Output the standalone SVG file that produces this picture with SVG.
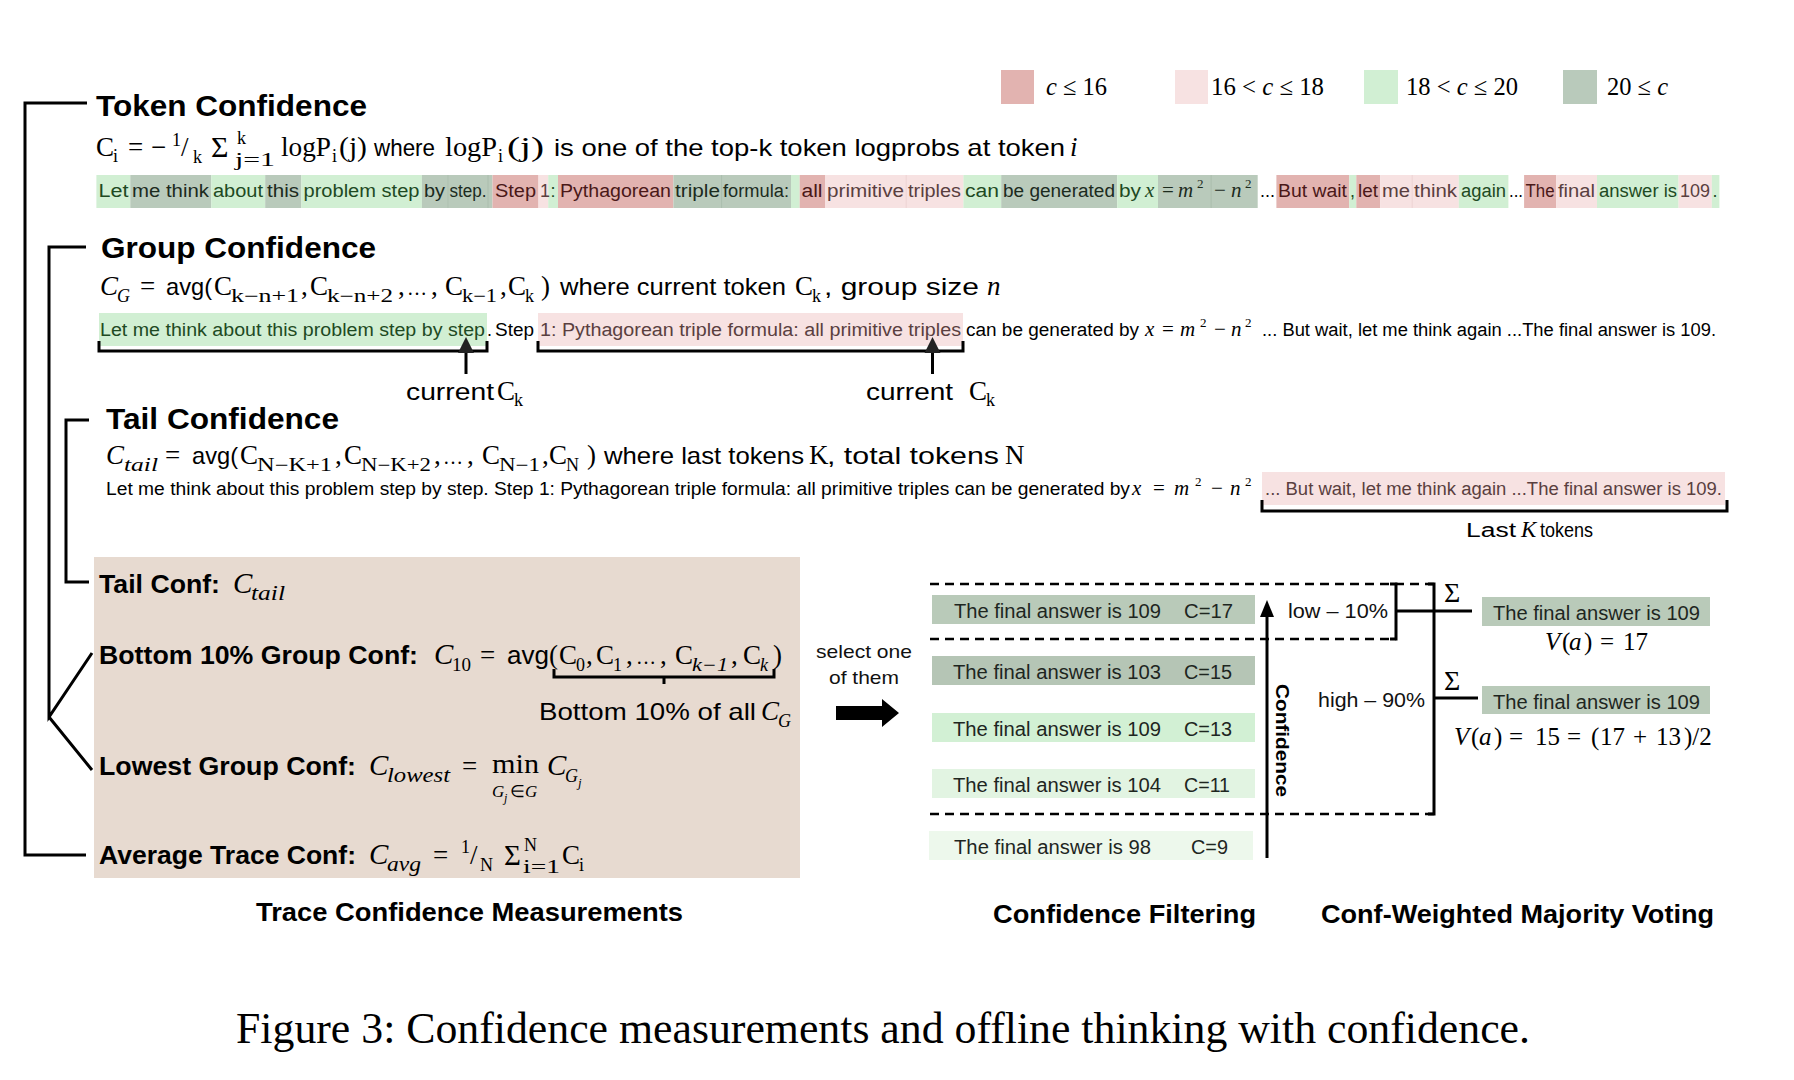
<svg xmlns="http://www.w3.org/2000/svg" width="1794" height="1080" viewBox="0 0 1794 1080">
<defs>
<style>
.h{font-family:"Liberation Sans",Arial,sans-serif;font-weight:bold;font-size:29px;fill:#000}
.b{font-family:"Liberation Sans",Arial,sans-serif;font-weight:bold;font-size:26px;fill:#000}
.t{font-family:"Liberation Sans",Arial,sans-serif;font-size:24px;fill:#000}
.t2{font-family:"Liberation Sans",Arial,sans-serif;font-size:21px;fill:#111}
.s{font-family:"Liberation Sans",Arial,sans-serif;font-size:18px}
.m{font-family:"Liberation Serif","Times New Roman",serif;font-size:27px;fill:#000}
.mi{font-family:"Liberation Serif","Times New Roman",serif;font-size:27px;font-style:italic;fill:#000}
.ms{font-family:"Liberation Serif","Times New Roman",serif;font-size:18px;fill:#000}
.msi{font-family:"Liberation Serif","Times New Roman",serif;font-size:18px;font-style:italic;fill:#000}
.el{font-family:"Liberation Serif","Times New Roman",serif;font-size:20px;fill:#000}
.sm{font-family:"Liberation Serif","Times New Roman",serif;font-size:21px}
.smi{font-family:"Liberation Serif","Times New Roman",serif;font-size:21px;font-style:italic}
.sup{font-family:"Liberation Serif","Times New Roman",serif;font-size:13px}
.lg{font-family:"Liberation Serif","Times New Roman",serif;font-size:25px;fill:#000}
.ln{stroke:#000;stroke-width:3;fill:none}
.dash{stroke:#000;stroke-width:2.5;stroke-dasharray:9 6;fill:none}
.R{fill:#e2b3b0}.P{fill:#f7e2e2}.LG{fill:#d1efd3}.DG{fill:#b9cabb}
.tR{fill:#4a1818}.tP{fill:#5a3f3f}.tLG{fill:#1e4a23}.tDG{fill:#1c2b1e}
.box{font-family:"Liberation Sans",Arial,sans-serif;font-size:20px;fill:#1e261f}
</style>
</defs>
<rect width="1794" height="1080" fill="#fff"/>

<g id="legend">
<rect class="R" x="1001" y="70" width="33" height="34"/>
<text class="lg" x="1046" y="95" textLength="61" lengthAdjust="spacingAndGlyphs"><tspan font-style="italic">c</tspan> ≤ 16</text>
<rect class="P" x="1175" y="70" width="33" height="34"/>
<text class="lg" x="1211" y="95" textLength="113" lengthAdjust="spacingAndGlyphs">16 &lt; <tspan font-style="italic">c</tspan> ≤ 18</text>
<rect class="LG" x="1364" y="70" width="34" height="34"/>
<text class="lg" x="1406" y="95" textLength="112" lengthAdjust="spacingAndGlyphs">18 &lt; <tspan font-style="italic">c</tspan> ≤ 20</text>
<rect class="DG" x="1563" y="70" width="34" height="34"/>
<text class="lg" x="1607" y="95" textLength="61" lengthAdjust="spacingAndGlyphs">20 ≤ <tspan font-style="italic">c</tspan></text>
</g>

<g id="token-confidence">
<text class="h" x="96" y="116" textLength="271" lengthAdjust="spacingAndGlyphs">Token Confidence</text>
<text class="m" x="96" y="156">C</text><text class="ms" x="113" y="162">i</text>
<text class="m" x="128" y="156">=</text>
<text class="m" x="151" y="156">−</text>
<text class="ms" x="172" y="146">1</text><text class="m" x="181" y="156">/</text><text class="ms" x="193" y="163">k</text>
<text class="m" x="211" y="157" style="font-size:30px">Σ</text>
<text class="ms" x="237" y="144">k</text><text class="ms" x="235" y="166" textLength="40" lengthAdjust="spacingAndGlyphs">j=1</text>
<text class="m" x="281" y="156" textLength="50" lengthAdjust="spacingAndGlyphs">logP</text><text class="ms" x="332" y="162">i</text><text class="m" x="339" y="156" textLength="28" lengthAdjust="spacingAndGlyphs">(j)</text>
<text class="t" x="374" y="156" textLength="61" lengthAdjust="spacingAndGlyphs">where</text>
<text class="m" x="445" y="156" textLength="52" lengthAdjust="spacingAndGlyphs">logP</text><text class="ms" x="498" y="162">i</text><text class="m" x="507" y="156" textLength="37" lengthAdjust="spacingAndGlyphs">(j)</text>
<text class="t" x="554" y="156" textLength="511" lengthAdjust="spacingAndGlyphs">is one of the top-k token logprobs at token</text>
<text class="mi" x="1070" y="156">i</text>

<g id="token-strip">
<rect class="LG" x="96.4" y="175" width="34" height="33"/>
<rect class="DG" x="130.3" y="175" width="81" height="33"/>
<rect class="LG" x="211.3" y="175" width="54" height="33"/>
<rect class="DG" x="265.2" y="175" width="36.2" height="33"/>
<rect class="LG" x="301.4" y="175" width="120.5" height="33"/>
<rect class="DG" x="421.9" y="175" width="25.9" height="33"/>
<rect class="DG" x="447.8" y="175" width="44.7" height="33"/>
<rect class="R" x="492.5" y="175" width="46" height="33"/>
<rect class="P" x="538.5" y="175" width="9.7" height="33"/>
<rect class="LG" x="548.2" y="175" width="9.8" height="33"/>
<rect class="R" x="558" y="175" width="115.4" height="33"/>
<rect class="DG" x="673.4" y="175" width="117.6" height="33"/>
<rect class="LG" x="791" y="175" width="8.7" height="33"/>
<rect class="R" x="799.7" y="175" width="25.3" height="33"/>
<rect class="P" x="825" y="175" width="138.4" height="33"/>
<rect class="LG" x="963.4" y="175" width="37.8" height="33"/>
<rect class="DG" x="1001.2" y="175" width="116" height="33"/>
<rect class="LG" x="1117.2" y="175" width="40.8" height="33"/>
<rect class="DG" x="1158" y="175" width="99.7" height="33"/>
<rect class="R" x="1276.4" y="175" width="72.9" height="33"/>
<rect class="LG" x="1349.3" y="175" width="7" height="33"/>
<rect class="R" x="1356.3" y="175" width="23.8" height="33"/>
<rect class="P" x="1380.1" y="175" width="78.7" height="33"/>
<rect class="LG" x="1458.8" y="175" width="49.6" height="33"/>
<rect class="R" x="1524.1" y="175" width="32.1" height="33"/>
<rect class="P" x="1556.2" y="175" width="40.8" height="33"/>
<rect class="LG" x="1597" y="175" width="81.6" height="33"/>
<rect class="P" x="1678.6" y="175" width="33.2" height="33"/>
<rect class="LG" x="1711.8" y="175" width="7.6" height="33"/>
<g stroke="#a7baa9" stroke-width="0.8">
<line x1="447.8" y1="175" x2="447.8" y2="208"/><line x1="488" y1="175" x2="488" y2="208"/><line x1="721.6" y1="175" x2="721.6" y2="208"/><line x1="1211.1" y1="175" x2="1211.1" y2="208"/>
</g>
<g stroke="#ebcfcf" stroke-width="0.8">
<line x1="906.2" y1="175" x2="906.2" y2="208"/><line x1="1412.2" y1="175" x2="1412.2" y2="208"/>
</g>
<text class="s tLG" x="98.5" y="197" textLength="30" lengthAdjust="spacingAndGlyphs">Let</text>
<text class="s tDG" x="132" y="197" textLength="77" lengthAdjust="spacingAndGlyphs">me think</text>
<text class="s tLG" x="213" y="197" textLength="50" lengthAdjust="spacingAndGlyphs">about</text>
<text class="s tDG" x="267" y="197" textLength="32" lengthAdjust="spacingAndGlyphs">this</text>
<text class="s tLG" x="303.5" y="197" textLength="116" lengthAdjust="spacingAndGlyphs">problem step</text>
<text class="s tDG" x="424" y="197" textLength="21" lengthAdjust="spacingAndGlyphs">by</text>
<text class="s tDG" x="449.5" y="197" textLength="37" lengthAdjust="spacingAndGlyphs">step.</text>
<text class="s tR" x="495" y="197" textLength="41" lengthAdjust="spacingAndGlyphs">Step</text>
<text class="s tP" x="540" y="197">1</text>
<text class="s tLG" x="550.5" y="197">:</text>
<text class="s tR" x="560" y="197" textLength="111" lengthAdjust="spacingAndGlyphs">Pythagorean</text>
<text class="s tDG" x="675" y="197" textLength="45" lengthAdjust="spacingAndGlyphs">triple</text>
<text class="s tDG" x="723" y="197" textLength="66" lengthAdjust="spacingAndGlyphs">formula:</text>
<text class="s tR" x="801.5" y="197" textLength="21" lengthAdjust="spacingAndGlyphs">all</text>
<text class="s tP" x="827" y="197" textLength="77" lengthAdjust="spacingAndGlyphs">primitive</text>
<text class="s tP" x="908" y="197" textLength="53" lengthAdjust="spacingAndGlyphs">triples</text>
<text class="s tLG" x="965" y="197" textLength="34" lengthAdjust="spacingAndGlyphs">can</text>
<text class="s tDG" x="1003" y="197" textLength="112" lengthAdjust="spacingAndGlyphs">be generated</text>
<text class="s tLG" x="1119" y="197" textLength="22" lengthAdjust="spacingAndGlyphs">by</text>
<text class="smi tLG" x="1145" y="197">x</text>
<text class="sm tDG" x="1162" y="197">=</text>
<text class="smi tDG" x="1178" y="197">m</text><text class="sup tDG" x="1197" y="188">2</text>
<text class="sm tDG" x="1214" y="197">−</text>
<text class="smi tDG" x="1231" y="197">n</text><text class="sup tDG" x="1245" y="188">2</text>
<text class="s" x="1260" y="197">...</text>
<text class="s tR" x="1278" y="197" textLength="69" lengthAdjust="spacingAndGlyphs">But wait</text>
<text class="s tLG" x="1350" y="197">,</text>
<text class="s tR" x="1358" y="197" textLength="20" lengthAdjust="spacingAndGlyphs">let</text>
<text class="s tP" x="1382" y="197" textLength="28" lengthAdjust="spacingAndGlyphs">me</text>
<text class="s tP" x="1414" y="197" textLength="43" lengthAdjust="spacingAndGlyphs">think</text>
<text class="s tLG" x="1461" y="197" textLength="45" lengthAdjust="spacingAndGlyphs">again</text>
<text class="s" x="1509" y="197" textLength="14" lengthAdjust="spacingAndGlyphs">...</text>
<text class="s tR" x="1525.5" y="197" textLength="29" lengthAdjust="spacingAndGlyphs">The</text>
<text class="s tP" x="1558" y="197" textLength="37" lengthAdjust="spacingAndGlyphs">final</text>
<text class="s tLG" x="1599" y="197" textLength="78" lengthAdjust="spacingAndGlyphs">answer is</text>
<text class="s tP" x="1680" y="197" textLength="30" lengthAdjust="spacingAndGlyphs">109</text>
<text class="s tLG" x="1712.5" y="197">.</text>
</g>
</g>

<g id="group-confidence">
<text class="h" x="101" y="258" textLength="275" lengthAdjust="spacingAndGlyphs">Group Confidence</text>
<text class="mi" x="100" y="295">C</text><text class="msi" x="117" y="302">G</text>
<text class="m" x="140" y="295">=</text>
<text class="t" x="166" y="295" textLength="46" lengthAdjust="spacingAndGlyphs">avg(</text>
<text class="m" x="214" y="295">C</text><text class="ms" x="231" y="302" textLength="68" lengthAdjust="spacingAndGlyphs">k−n+1</text><text class="m" x="301" y="295">,</text>
<text class="m" x="310" y="295">C</text><text class="ms" x="327" y="302" textLength="66" lengthAdjust="spacingAndGlyphs">k−n+2</text><text class="m" x="398" y="295">,</text>
<text class="el" x="407" y="295">…</text><text class="m" x="431" y="295">,</text>
<text class="m" x="445" y="295">C</text><text class="ms" x="462" y="302" textLength="35" lengthAdjust="spacingAndGlyphs">k−1</text><text class="m" x="500" y="295">,</text>
<text class="m" x="508" y="295">C</text><text class="ms" x="525" y="302">k</text><text class="m" x="541" y="295">)</text>
<text class="t" x="560" y="295" textLength="226" lengthAdjust="spacingAndGlyphs">where current token</text>
<text class="m" x="795" y="295">C</text><text class="ms" x="812" y="302">k</text>
<text class="t" x="824" y="295" textLength="155" lengthAdjust="spacingAndGlyphs">, group size</text>
<text class="mi" x="987" y="295">n</text>

<rect class="LG" x="99" y="313" width="388" height="33"/>
<rect class="P" x="538" y="313" width="425" height="33"/>
<text class="s tLG" x="100" y="336" textLength="385" lengthAdjust="spacingAndGlyphs">Let me think about this problem step by step</text>
<text class="s" x="487" y="336">.</text>
<text class="s" x="495" y="336" textLength="39" lengthAdjust="spacingAndGlyphs">Step</text>
<text class="s tP" x="540" y="336" textLength="421" lengthAdjust="spacingAndGlyphs">1: Pythagorean triple formula: all primitive triples</text>
<text class="s" x="966" y="336" textLength="173" lengthAdjust="spacingAndGlyphs">can be generated by</text>
<text class="smi" x="1145" y="336">x</text>
<text class="sm" x="1162" y="336">=</text>
<text class="smi" x="1180" y="336">m</text><text class="sup" x="1200" y="327">2</text>
<text class="sm" x="1214" y="336">−</text>
<text class="smi" x="1231" y="336">n</text><text class="sup" x="1245" y="327">2</text>
<text class="s" x="1262" y="336" textLength="454" lengthAdjust="spacingAndGlyphs">... But wait, let me think again ...The final answer is 109.</text>

<text class="t" x="406" y="400" textLength="88" lengthAdjust="spacingAndGlyphs">current</text>
<text class="m" x="497" y="400">C</text><text class="ms" x="514" y="406">k</text>
<text class="t" x="866" y="400" textLength="87" lengthAdjust="spacingAndGlyphs">current</text>
<text class="m" x="969" y="400">C</text><text class="ms" x="986" y="406">k</text>
</g>

<g id="tail-confidence">
<text class="h" x="106" y="429" textLength="233" lengthAdjust="spacingAndGlyphs">Tail Confidence</text>
<text class="mi" x="106" y="464">C</text><text class="msi" x="124" y="471" textLength="34" lengthAdjust="spacingAndGlyphs">tail</text>
<text class="m" x="165" y="464">=</text>
<text class="t" x="192" y="464" textLength="46" lengthAdjust="spacingAndGlyphs">avg(</text>
<text class="m" x="240" y="464">C</text><text class="ms" x="257" y="471" textLength="75" lengthAdjust="spacingAndGlyphs">N−K+1</text><text class="m" x="335" y="464">,</text>
<text class="m" x="344" y="464">C</text><text class="ms" x="361" y="471" textLength="70" lengthAdjust="spacingAndGlyphs">N−K+2</text><text class="m" x="434" y="464">,</text>
<text class="el" x="443" y="464">…</text><text class="m" x="467" y="464">,</text>
<text class="m" x="482" y="464">C</text><text class="ms" x="499" y="471" textLength="41" lengthAdjust="spacingAndGlyphs">N−1</text><text class="m" x="542" y="464">,</text>
<text class="m" x="549" y="464">C</text><text class="ms" x="566" y="471">N</text><text class="m" x="587" y="464">)</text>
<text class="t" x="604" y="464" textLength="200" lengthAdjust="spacingAndGlyphs">where last tokens</text>
<text class="m" x="809" y="464">K</text>
<text class="t" x="827" y="464" textLength="172" lengthAdjust="spacingAndGlyphs">, total tokens</text>
<text class="m" x="1005" y="464">N</text>

<rect class="P" x="1262" y="472" width="463" height="33"/>
<text class="s" x="106" y="495" textLength="1024" lengthAdjust="spacingAndGlyphs">Let me think about this problem step by step. Step 1: Pythagorean triple formula: all primitive triples can be generated by</text>
<text class="smi" x="1132" y="495">x</text>
<text class="sm" x="1153" y="495">=</text>
<text class="smi" x="1174" y="495">m</text><text class="sup" x="1195" y="486">2</text>
<text class="sm" x="1211" y="495">−</text>
<text class="smi" x="1230" y="495">n</text><text class="sup" x="1245" y="486">2</text>
<text class="s tP" x="1265" y="495" textLength="457" lengthAdjust="spacingAndGlyphs">... But wait, let me think again ...The final answer is 109.</text>
<text class="t" x="1466" y="537" style="font-size:20px" textLength="50" lengthAdjust="spacingAndGlyphs">Last</text>
<text class="mi" x="1521" y="537" style="font-size:23px">K</text>
<text class="t" x="1540" y="537" style="font-size:20px" textLength="53" lengthAdjust="spacingAndGlyphs">tokens</text>
</g>

<g id="trace-measurements">
<rect x="94" y="557" width="706" height="321" fill="#e7dad0"/>
<text class="b" x="99" y="593" textLength="121" lengthAdjust="spacingAndGlyphs">Tail Conf:</text>
<text class="mi" x="233" y="593" style="font-size:29px">C</text><text class="msi" x="251" y="600" style="font-size:20px" textLength="34" lengthAdjust="spacingAndGlyphs">tail</text>

<text class="b" x="99" y="664" textLength="319" lengthAdjust="spacingAndGlyphs">Bottom 10% Group Conf:</text>
<text class="mi" x="434" y="664" style="font-size:29px">C</text><text class="ms" x="452" y="671" textLength="19" lengthAdjust="spacingAndGlyphs">10</text>
<text class="m" x="480" y="664">=</text>
<text class="t" x="507" y="664" style="font-size:25px" textLength="42" lengthAdjust="spacingAndGlyphs">avg</text>
<text class="m" x="549" y="664">(</text>
<text class="m" x="559" y="664">C</text><text class="ms" x="576" y="671">0</text><text class="m" x="586" y="664">,</text>
<text class="m" x="596" y="664">C</text><text class="ms" x="613" y="671">1</text>
<text class="m" x="626" y="664">,</text><text class="el" x="636" y="664">…</text><text class="m" x="660" y="664">,</text>
<text class="m" x="675" y="664">C</text><text class="msi" x="692" y="671" textLength="36" lengthAdjust="spacingAndGlyphs">k−1</text><text class="m" x="731" y="664">,</text>
<text class="m" x="743" y="664">C</text><text class="msi" x="760" y="671">k</text>
<text class="m" x="773" y="664">)</text>
<text class="t" x="539" y="720" textLength="217" lengthAdjust="spacingAndGlyphs">Bottom 10% of all</text>
<text class="mi" x="761" y="720">C</text><text class="msi" x="778" y="727">G</text>

<text class="b" x="99" y="775" textLength="257" lengthAdjust="spacingAndGlyphs">Lowest Group Conf:</text>
<text class="mi" x="369" y="775" style="font-size:29px">C</text><text class="msi" x="387" y="782" style="font-size:20px" textLength="63" lengthAdjust="spacingAndGlyphs">lowest</text>
<text class="m" x="462" y="775">=</text>
<text class="m" x="492" y="773" textLength="47" lengthAdjust="spacingAndGlyphs">min</text>
<text class="msi" x="492" y="797" style="font-size:17px">G</text><text class="msi" x="504" y="802" style="font-size:12px">j</text><text class="ms" x="510" y="797" style="font-size:17px">∈</text><text class="msi" x="525" y="797" style="font-size:17px">G</text>
<text class="mi" x="547" y="775" style="font-size:29px">C</text><text class="msi" x="565" y="782">G</text><text class="msi" x="578" y="787" style="font-size:13px">j</text>

<text class="b" x="99" y="864" textLength="257" lengthAdjust="spacingAndGlyphs">Average Trace Conf:</text>
<text class="mi" x="369" y="864" style="font-size:29px">C</text><text class="msi" x="387" y="871" style="font-size:20px" textLength="34" lengthAdjust="spacingAndGlyphs">avg</text>
<text class="m" x="433" y="864">=</text>
<text class="ms" x="461" y="853">1</text><text class="m" x="470" y="864">/</text><text class="ms" x="480" y="871">N</text>
<text class="m" x="504" y="865" style="font-size:29px">Σ</text>
<text class="ms" x="524" y="851">N</text><text class="ms" x="523" y="873" textLength="37" lengthAdjust="spacingAndGlyphs">i=1</text>
<text class="m" x="562" y="864">C</text><text class="ms" x="579" y="871">i</text>

<text class="b" x="256" y="921" textLength="427" lengthAdjust="spacingAndGlyphs">Trace Confidence Measurements</text>
</g>

<g id="filtering">
<rect x="932" y="595" width="323" height="29" fill="#b9cab9"/>
<rect x="932" y="656" width="323" height="29" fill="#b5c5b5"/>
<rect x="932" y="713" width="323" height="29" fill="#d2f0d4"/>
<rect x="932" y="769" width="323" height="29" fill="#e2f4e2"/>
<rect x="929" y="831" width="324" height="29" fill="#edf8ec"/>
<text class="box" x="954" y="618" textLength="207" lengthAdjust="spacingAndGlyphs">The final answer is 109</text><text class="box" x="1184" y="618" textLength="49" lengthAdjust="spacingAndGlyphs">C=17</text>
<text class="box" x="953" y="679" textLength="208" lengthAdjust="spacingAndGlyphs">The final answer is 103</text><text class="box" x="1184" y="679" textLength="48" lengthAdjust="spacingAndGlyphs">C=15</text>
<text class="box" x="953" y="736" textLength="208" lengthAdjust="spacingAndGlyphs">The final answer is 109</text><text class="box" x="1184" y="736" textLength="48" lengthAdjust="spacingAndGlyphs">C=13</text>
<text class="box" x="953" y="792" textLength="208" lengthAdjust="spacingAndGlyphs">The final answer is 104</text><text class="box" x="1184" y="792" textLength="46" lengthAdjust="spacingAndGlyphs">C=11</text>
<text class="box" x="954" y="854" textLength="197" lengthAdjust="spacingAndGlyphs">The final answer is 98</text><text class="box" x="1191" y="854" textLength="37" lengthAdjust="spacingAndGlyphs">C=9</text>

<text class="t2" x="1288" y="618" textLength="100" lengthAdjust="spacingAndGlyphs">low – 10%</text>
<text class="t2" x="1318" y="707" textLength="107" lengthAdjust="spacingAndGlyphs">high – 90%</text>
<text x="1276" y="684" transform="rotate(90 1276 684)" font-family="Liberation Sans, Arial, sans-serif" font-weight="bold" font-size="19" textLength="113" lengthAdjust="spacingAndGlyphs">Confidence</text>

<text class="t2" x="864" y="658" text-anchor="middle" style="font-size:19px" textLength="96" lengthAdjust="spacingAndGlyphs">select one</text>
<text class="t2" x="864" y="684" text-anchor="middle" style="font-size:19px" textLength="70" lengthAdjust="spacingAndGlyphs">of them</text>

<text class="b" x="993" y="923" textLength="263" lengthAdjust="spacingAndGlyphs">Confidence Filtering</text>
</g>

<g id="voting">
<text class="m" x="1444" y="602" style="font-size:28px">Σ</text>
<text class="m" x="1444" y="690" style="font-size:28px">Σ</text>
<rect x="1482" y="597" width="228" height="29" fill="#b9cab9"/>
<rect x="1482" y="686" width="228" height="28" fill="#b9cab9"/>
<text class="box" x="1493" y="620" textLength="207" lengthAdjust="spacingAndGlyphs">The final answer is 109</text>
<text class="box" x="1493" y="709" textLength="207" lengthAdjust="spacingAndGlyphs">The final answer is 109</text>
<g font-family="Liberation Serif, Times New Roman, serif" font-size="25">
<text x="1545" y="650"><tspan font-style="italic">V</tspan><tspan x="1562">(</tspan><tspan x="1569" font-style="italic">a</tspan><tspan x="1584">)</tspan><tspan x="1600">=</tspan><tspan x="1623">17</tspan></text>
<text x="1454" y="745"><tspan font-style="italic">V</tspan><tspan x="1471">(</tspan><tspan x="1479" font-style="italic">a</tspan><tspan x="1494">)</tspan><tspan x="1509">=</tspan><tspan x="1535">15</tspan><tspan x="1567">=</tspan><tspan x="1591">(</tspan><tspan x="1600">17</tspan><tspan x="1633">+</tspan><tspan x="1656">13</tspan><tspan x="1684">)/2</tspan></text>
</g>
<text class="b" x="1321" y="923" textLength="393" lengthAdjust="spacingAndGlyphs">Conf-Weighted Majority Voting</text>
</g>

<g id="connectors">
<path class="ln" d="M87 103 H25 V855 H86"/>
<path class="ln" d="M86 247 H49 V717 L92 653 M49 717 L92 770"/>
<path class="ln" d="M89 420 H66 V582 H89"/>
<path class="ln" d="M99 341 V351 H487 V341"/>
<path class="ln" d="M538 341 V351 H963 V341"/>
<path class="ln" d="M466 374 V350" stroke-width="4"/>
<polygon points="466,337 458,353 474,353" fill="#222"/>
<path class="ln" d="M932.5 374 V350" stroke-width="4"/>
<polygon points="932.5,337 924.5,353 940.5,353" fill="#222"/>
<path class="ln" d="M1262 500 V511 H1727 V500"/>
<path class="ln" d="M554 669 V677 H774 V669 M664 677 V684"/>
<path class="dash" d="M930 584 H1434"/>
<path class="dash" d="M930 639 H1396"/>
<path class="dash" d="M930 814 H1434"/>
<path class="ln" d="M1390 584 H1396 V639 H1390" stroke-width="2.5"/>
<path class="ln" d="M1396 611 H1472" stroke-width="4"/>
<path class="ln" d="M1428 584 H1434 V814 H1428" stroke-width="3"/>
<path class="ln" d="M1434 698 H1478" stroke-width="4"/>
<path class="ln" d="M1267 858 V612" stroke-width="3.5"/>
<polygon points="1267,600 1260,617 1274,617" fill="#000"/>
<polygon points="836,706 882,706 882,699 899,713 882,727 882,720 836,720" fill="#000"/>
</g>

<g id="caption">
<text x="236" y="1043" font-family="Liberation Serif, Times New Roman, serif" font-size="44" textLength="1294" lengthAdjust="spacingAndGlyphs">Figure 3: Confidence measurements and offline thinking with confidence.</text>
</g>
</svg>
